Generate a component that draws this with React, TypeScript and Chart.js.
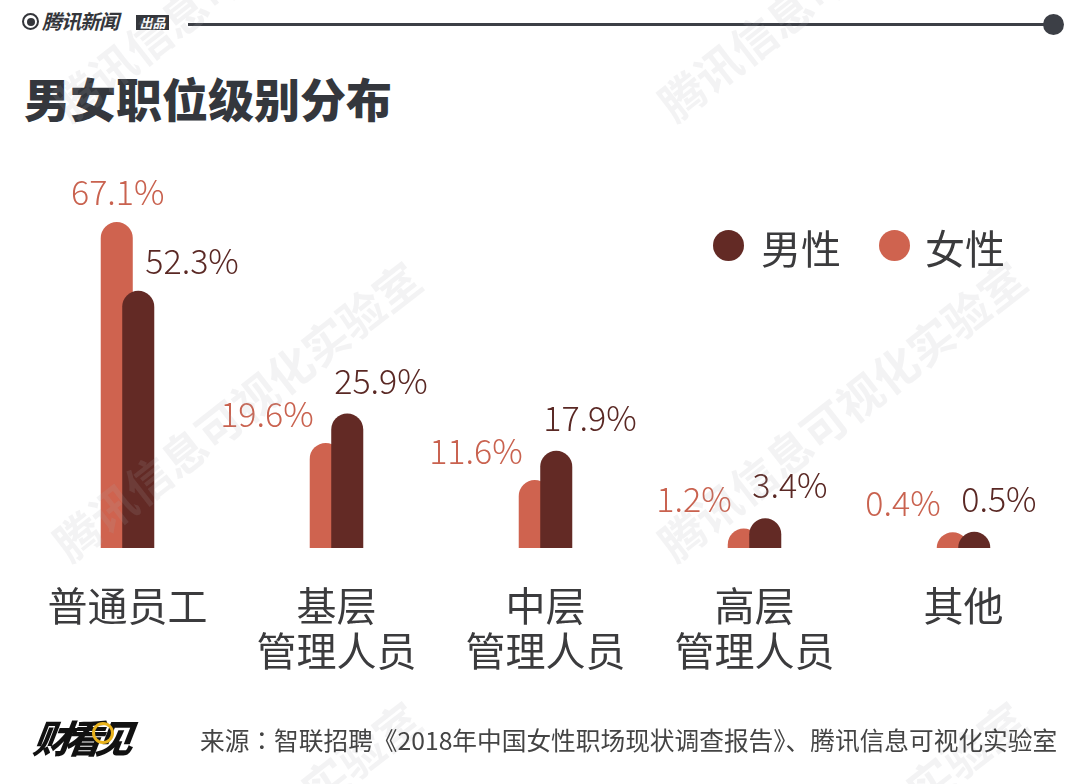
import React, { useEffect, useRef } from 'react';
import { Chart, registerables } from 'chart.js';

Chart.register(...registerables);

// ---------- data ----------
const categories: string[][] = [['普通员工'], ['基层', '管理人员'], ['中层', '管理人员'], ['高层', '管理人员'], ['其他']];
const femaleValues = [67.1, 19.6, 11.6, 1.2, 0.4];
const maleValues = [52.3, 25.9, 17.9, 3.4, 0.5];
const femaleName = '女性';
const maleName = '男性';
const title = '男女职位级别分布';
const sourceLead = '来源';
const sourceBody = '智联招聘《2018年中国女性职场现状调查报告》、腾讯信息可视化实验室';
const watermarkText = '腾讯信息可视化实验室';

// ---------- style ----------
const FEMALE = '#cf634f';
const MALE = '#632a25';
const FEMALE_TEXT = '#c9624f';
const MALE_TEXT = '#5a2824';
const TEXT = '#3b3b3d';
const FONT = '"Noto Sans CJK SC", "Noto Sans", sans-serif';

const fmt = (v: number) => v.toFixed(1) + '%';

const drawPlugin = {
  id: 'layeredBarsAndLabels',
  beforeDatasetDraw() {
    return false;
  },
  afterDatasetsDraw(chart: any) {
    const ctx = chart.ctx;
    const a = chart.chartArea;
    ctx.save();
    ctx.beginPath();
    ctx.rect(a.left, a.top, a.right - a.left, a.bottom - a.top);
    ctx.clip();
    chart.getDatasetMeta(0).controller.draw();
    chart.getDatasetMeta(1).controller.draw();
    ctx.restore();

    const fm = chart.getDatasetMeta(0);
    const mm = chart.getDatasetMeta(1);
    ctx.save();
    ctx.font = `300 34px ${FONT}`;
    ctx.textBaseline = 'middle';
    femaleValues.forEach((fv, i) => {
      const fb = fm.data[i];
      const mb = mm.data[i];
      const mv = maleValues[i];
      const fLeft = fb.x - fb.width / 2;
      const mLeft = mb.x - mb.width / 2;
      if (fv > mv) {
        ctx.fillStyle = FEMALE_TEXT;
        ctx.textAlign = 'center';
        ctx.fillText(fmt(fv), fb.x + 1, fb.y - 30);
        ctx.fillStyle = MALE_TEXT;
        ctx.textAlign = 'left';
        ctx.fillText(fmt(mv), mb.x + 7, mb.y - 30);
      } else {
        ctx.fillStyle = FEMALE_TEXT;
        ctx.textAlign = 'right';
        ctx.fillText(fmt(fv), fLeft + 4, fb.y - 29);
        ctx.fillStyle = MALE_TEXT;
        ctx.textAlign = 'left';
        ctx.fillText(fmt(mv), mLeft + 3, mb.y - 33);
      }
    });
    ctx.restore();
  },
  afterDraw(chart: any) {
    const ctx = chart.ctx;
    ctx.save();
    ctx.font = `bold 45px ${FONT}`;
    ctx.fillStyle = 'rgba(170,170,175,0.14)';
    ctx.textBaseline = 'middle';
    ctx.textAlign = 'left';
    const ang = (-38 * Math.PI) / 180;
    for (let i = 0; i < 2; i++) {
      for (let j = 0; j < 3; j++) {
        ctx.save();
        ctx.translate(60 + 605 * i, 110 + 440 * j);
        ctx.rotate(ang);
        ctx.fillText(watermarkText, 0, 0);
        ctx.restore();
      }
    }
    ctx.restore();
  },
};

function BarChart() {
  const ref = useRef<HTMLCanvasElement | null>(null);
  useEffect(() => {
    if (!ref.current) return;
    const chart = new Chart(ref.current, {
      type: 'bar',
      data: {
        labels: categories,
        datasets: [
          {
            label: femaleName,
            data: femaleValues,
            backgroundColor: FEMALE,
            base: -12,
            borderRadius: 16,
            borderSkipped: 'start',
            categoryPercentage: 0.2057,
            barPercentage: 1.49,
          } as any,
          {
            label: maleName,
            data: maleValues,
            backgroundColor: MALE,
            base: -12,
            borderRadius: 16,
            borderSkipped: 'start',
            categoryPercentage: 0.2057,
            barPercentage: 1.49,
          } as any,
        ],
      },
      options: {
        animation: false,
        responsive: false,
        maintainAspectRatio: false,
        layout: { padding: { top: 162, bottom: 76, left: 23, right: 12 } },
        scales: {
          x: {
            grid: { display: false, drawTicks: false },
            border: { display: false },
            ticks: {
              color: TEXT,
              font: { family: FONT, size: 40, lineHeight: 1.125 },
              padding: 35,
              maxRotation: 0,
              autoSkip: false,
            },
          },
          y: { display: false, min: -3, max: 80 },
        },
        plugins: { legend: { display: false }, tooltip: { enabled: false } },
      },
      plugins: [drawPlugin],
    });
    return () => chart.destroy();
  }, []);
  return <canvas ref={ref} width={1080} height={784} style={{ position: 'absolute', left: 0, top: 0, display: 'block' }} />;
}

export default function App() {
  const abs = (s: React.CSSProperties): React.CSSProperties => ({ position: 'absolute', ...s });
  return (
    <div style={{ position: 'fixed', left: 0, top: 0, width: 1080, height: 784, background: '#ffffff', overflow: 'hidden', fontFamily: FONT }}>
      {/* header */}
      <div style={abs({ left: 22, top: 13, width: 13, height: 13, borderRadius: '50%', border: '2.5px solid #34363b' })} />
      <div style={abs({ left: 27, top: 18, width: 8, height: 8, borderRadius: '50%', background: '#34363b' })} />
      <div style={abs({ left: 42, top: 8, fontSize: 20, lineHeight: '26px', fontStyle: 'italic', fontWeight: 700, color: '#34363b', letterSpacing: -1 })}>腾讯新闻</div>
      <div style={abs({ left: 136, top: 15, width: 33, height: 15, background: '#34363b', color: '#fff', fontSize: 13, lineHeight: '15px', fontStyle: 'italic', fontWeight: 700, textAlign: 'center' })}>出品</div>
      <div style={abs({ left: 188, top: 23, width: 866, height: 3, background: '#3c3f46' })} />
      <div style={abs({ left: 1043, top: 14, width: 21, height: 21, borderRadius: '50%', background: '#3c3f46' })} />
      {/* title */}
      <div style={abs({ left: 24, top: 72, fontSize: 46, lineHeight: '50px', fontWeight: 900, color: '#34373d', letterSpacing: 0 })}>{title}</div>

      <BarChart />

      {/* legend */}
      <div style={abs({ left: 713, top: 230, width: 31, height: 31, borderRadius: '50%', background: MALE })} />
      <div style={abs({ left: 761, top: 224, fontSize: 40, lineHeight: '46px', color: TEXT })}>{maleName}</div>
      <div style={abs({ left: 879, top: 230, width: 31, height: 31, borderRadius: '50%', background: FEMALE })} />
      <div style={abs({ left: 925, top: 224, fontSize: 40, lineHeight: '46px', color: TEXT })}>{femaleName}</div>

      {/* footer */}
      <div style={abs({ left: 34, top: 712, fontSize: 38, lineHeight: '50px', fontStyle: 'italic', fontWeight: 900, color: '#111', letterSpacing: -7, transform: 'skewX(-8deg)' })}>财看见</div>
      <div style={abs({ left: 92, top: 722, width: 16, height: 16, borderRadius: '50%', border: '3px solid #e8b21c' })} />
      <div style={abs({ left: 200, top: 722, fontSize: 24.7, lineHeight: '34px', color: '#444', whiteSpace: 'nowrap' })}>
        {sourceLead}
        <span style={{ fontFamily: '"Noto Sans CJK TC", "Noto Sans CJK SC", sans-serif' }}>：</span>
        {sourceBody}
      </div>
    </div>
  );
}
